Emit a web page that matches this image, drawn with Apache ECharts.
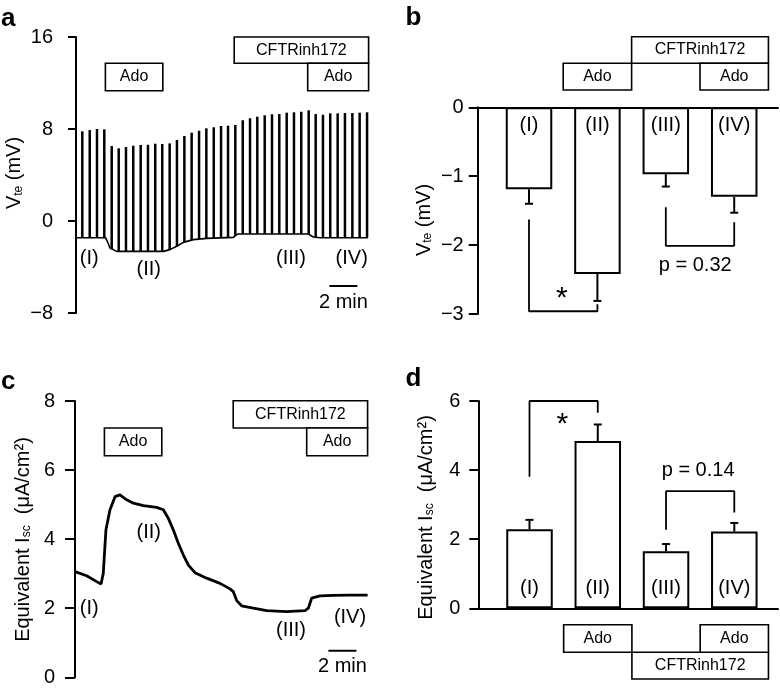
<!DOCTYPE html>
<html><head><meta charset="utf-8">
<script src="https://cdn.jsdelivr.net/npm/echarts@6/dist/echarts.min.js"></script>
<style>html,body{margin:0;padding:0;background:#fff}#c{width:780px;height:688px}</style>
</head><body><div id="c"></div>
<script>
// ---------- Panel a: transepithelial voltage (pulses every ~30 s) ----------
const pulseTimes = [0.45,0.98,1.5,2.02,2.55,3.05,3.57,4.09,4.62,5.14,5.66,6.16,6.69,7.21,7.74,8.26,8.79,9.31,9.84,10.36,
                    10.86,11.38,11.91,12.43,12.95,13.48,14.0,14.52,15.05,15.57,16.09,16.62,17.12,17.64,18.16,18.69,19.21,19.74,20.26,20.79];
const pulseTops  = [7.8,7.91,8.0,7.97,6.52,6.32,6.43,6.55,6.61,6.63,6.72,6.7,6.75,7.04,7.39,7.68,7.85,8.06,8.15,8.26,
                    8.29,8.35,8.76,8.93,9.07,9.19,9.28,9.3,9.42,9.45,9.5,9.63,9.3,9.24,9.36,9.36,9.39,9.39,9.42,9.45];
const pulseBases = [-1.45,-1.45,-1.45,-1.45,-2.45,-2.64,-2.64,-2.64,-2.64,-2.64,-2.64,-2.64,-2.5,-2.2,-1.83,-1.66,-1.57,-1.51,-1.48,-1.45,
                    -1.43,-1.28,-1.13,-1.13,-1.13,-1.13,-1.13,-1.13,-1.13,-1.13,-1.13,-1.15,-1.4,-1.45,-1.45,-1.45,-1.45,-1.45,-1.45,-1.45];
const baselineA = [[0,-1.45],[2.1,-1.45],[2.25,-1.8],[2.43,-2.35],[2.9,-2.64],[6.24,-2.64],[6.71,-2.49],[7.19,-2.2],[7.67,-1.86],
                   [8.38,-1.62],[9.33,-1.51],[11.24,-1.42],[11.45,-1.2],[11.6,-1.13],[16.6,-1.13],[16.95,-1.39],[17.43,-1.45],[20.85,-1.45]];
// ---------- Panel c: equivalent short-circuit current ----------
const traceC = [[0,3.06],[0.07,3.04],[0.83,2.94],[1.55,2.77],[1.86,2.70],[2.02,3.01],[2.21,4.27],[2.5,4.85],[2.86,5.23],[3.21,5.28],
                [3.69,5.14],[4.17,5.04],[4.88,4.97],[5.83,4.92],[6.31,4.85],[6.67,4.6],[7.02,4.27],[7.38,3.88],[7.74,3.54],[8.1,3.25],
                [8.57,3.03],[9.4,2.87],[10.36,2.72],[11.07,2.56],[11.31,2.48],[11.55,2.22],[11.9,2.07],[12.74,2.0],[13.69,1.93],
                [15.12,1.90],[16.43,1.93],[16.67,2.0],[16.9,2.29],[17.5,2.36],[18.45,2.37],[19.64,2.38],[20.9,2.38]];
// treatment periods (min)
const adoTime = [2.1, 6.2];
const cftrTime = [11.3, 20.9];
const ado2Time = [16.55, 20.9];
const scaleBarMin = [18.1, 20.1];
// ---------- Panels b / d: summary bars ----------
const groups = ['(I)','(II)','(III)','(IV)'];
const groupPos = [1,2,3,4];
const vteMean = [-1.19,-2.42,-0.97,-1.30];
const vteErr  = [0.21,0.39,0.18,0.23];
const iscMean = [2.29,4.84,1.65,2.22];
const iscErr  = [0.27,0.48,0.21,0.25];
const adoBars = [1.5, 2.5], cftrBars = [2.5, 4.5], ado2Bars = [3.5, 4.5];
const bracketB1 = [[1,-1.63],[1,-2.96],[2,-2.96],[2,-2.86]];
const bracketB2 = [[3,-1.45],[3,-2.01],[4,-2.01],[4,-1.67]];
const bracketD1 = [[1,3.81],[1,6.0],[2,6.0],[2,5.66]];
const bracketD2 = [[3,2.27],[3,3.39],[4,3.39],[4,2.77]];

const FONT = '"Liberation Sans", Arial, Helvetica, sans-serif';
const chart = echarts.init(document.getElementById('c'), null, {renderer:'canvas', width:780, height:688});
const minus = v => String(v).replace('-', '\u2212');

function yAx(gridIndex, min, max, interval, margin, tickLen){
  return {type:'value', gridIndex, min, max, interval,
    axisLine:{show:true, onZero:false, lineStyle:{color:'#000', width:2}},
    axisTick:{show:true, length:tickLen, lineStyle:{color:'#000', width:2}},
    axisLabel:{color:'#000', fontSize:20, fontFamily:FONT, margin, formatter:minus},
    splitLine:{show:false}};
}
function xBar(gridIndex){
  return {type:'value', gridIndex, min:0.25, max:4.64,
    axisLine:{show:true, onZero:true, lineStyle:{color:'#000', width:2}},
    axisTick:{show:false}, axisLabel:{show:false}, splitLine:{show:false}};
}
function errItem(params, api){
  const x = api.value(0), m = api.value(1), e = api.value(2);
  const end = m < 0 ? m - e : m + e;
  const p0 = api.coord([x, m]), p1 = api.coord([x, end]);
  return {type:'group', children:[
    {type:'line', shape:{x1:p0[0],y1:p0[1],x2:p1[0],y2:p1[1]}, style:{stroke:'#000',lineWidth:2}},
    {type:'line', shape:{x1:p1[0]-4,y1:p1[1],x2:p1[0]+4,y2:p1[1]}, style:{stroke:'#000',lineWidth:2}}
  ]};
}
function pulseItem(params, api){
  const p0 = api.coord([api.value(0), api.value(1)]);
  const p1 = api.coord([api.value(0), api.value(2)]);
  return {type:'line', shape:{x1:p0[0],y1:p0[1],x2:p1[0],y2:p1[1]}, style:{stroke:'#000', lineWidth:2.5}};
}
const lineS = (xi, data, w) => ({type:'line', xAxisIndex:xi, yAxisIndex:xi, data, showSymbol:false, symbol:'none', clip:false,
  lineStyle:{color:'#000', width:w}, silent:true});

const option = {
  animation:false,
  backgroundColor:'#fff',
  grid:[
    {left:76, top:37, width:301, height:276, outerBoundsMode:'none'},
    {left:477.7, top:107.3, width:300.3, height:206.7, outerBoundsMode:'none'},
    {left:75, top:401, width:301, height:276.3, outerBoundsMode:'none'},
    {left:478.3, top:401, width:299.7, height:207.3, outerBoundsMode:'none'}
  ],
  xAxis:[
    {type:'value', gridIndex:0, min:0, max:21.5, show:false},
    xBar(1),
    {type:'value', gridIndex:2, min:0, max:21.5, show:false},
    xBar(3)
  ],
  yAxis:[ yAx(0,-8,16,8,23,8), yAx(1,-3,0,1,14,9), yAx(2,0,8,2,20,10), yAx(3,0,6,2,18,9) ],
  series:[
    lineS(0, baselineA, 1.6),
    {type:'custom', xAxisIndex:0, yAxisIndex:0, renderItem:pulseItem, encode:{x:0, y:[1,2]},
      data: pulseTimes.map((t,i)=>[t, pulseBases[i], pulseTops[i]])},
    lineS(0, [[scaleBarMin[0],-5.65],[scaleBarMin[1],-5.65]], 2),
    {type:'bar', xAxisIndex:1, yAxisIndex:1, barWidth:46.5, data: groupPos.map((p,i)=>[p, vteMean[i]]),
      itemStyle:{color:'#fff', borderColor:'#000', borderWidth:2}},
    {type:'custom', xAxisIndex:1, yAxisIndex:1, renderItem:errItem, encode:{x:0,y:1},
      data: groupPos.map((p,i)=>[p, vteMean[i], vteErr[i]])},
    lineS(1, bracketB1, 1.8), lineS(1, bracketB2, 1.8),
    lineS(2, traceC, 2.8),
    lineS(2, [[scaleBarMin[0],0.77],[scaleBarMin[1],0.77]], 2),
    {type:'bar', xAxisIndex:3, yAxisIndex:3, barWidth:46.5, data: groupPos.map((p,i)=>[p, iscMean[i]]),
      itemStyle:{color:'#fff', borderColor:'#000', borderWidth:2}},
    {type:'custom', xAxisIndex:3, yAxisIndex:3, renderItem:errItem, encode:{x:0,y:1},
      data: groupPos.map((p,i)=>[p, iscMean[i], iscErr[i]])},
    lineS(3, bracketD1, 1.8), lineS(3, bracketD2, 1.8)
  ]
};
chart.setOption(option);

// ---------- annotations ----------
const g = [];
function txt(x, y, s, size, extra){
  g.push(Object.assign({type:'text', x, y, z:20, style:{text:s, fill:'#000', font:size+'px '+FONT, align:'center', verticalAlign:'middle'}}, extra||{}));
}
function box(x0, x1, y0, y1, label){
  g.push({type:'rect', z:15, shape:{x:x0, y:y0, width:x1-x0, height:y1-y0}, style:{fill:'#fff', stroke:'#000', lineWidth:1.6}});
  txt((x0+x1)/2, (y0+y1)/2, label, 16);
}
const px = (xi, v) => chart.convertToPixel({xAxisIndex:xi}, v);

// panel letters
[['a',1,19.2],['b',405.5,18.2],['c',1,382.2],['d',405.5,379.2]].forEach(([s,x,y]) =>
  g.push({type:'text', x, y, z:20, style:{text:s, fill:'#000', font:'bold 26px '+FONT, align:'left', verticalAlign:'middle'}}));

// y-axis titles (rotated, with subscripts)
function ytitle(x, y, main, sub, rest){
  g.push({type:'text', x, y, rotation:Math.PI/2, z:20, style:{
    text:'{n|'+main+'}{s|'+sub+'}{n|'+rest+'}', align:'center', verticalAlign:'middle', fill:'#000',
    rich:{n:{fontSize:20, fontFamily:FONT, verticalAlign:'bottom', fill:'#000'}, s:{fontSize:12, fontFamily:FONT, verticalAlign:'bottom', fill:'#000'}}}});
}
ytitle(14.6, 173, 'V', 'te', ' (mV)');
ytitle(424, 220, 'V', 'te', ' (mV)');
ytitle(23, 539.5, 'Equivalent I', 'sc', '  (\u03bcA/cm\u00b2)');
ytitle(426, 517.5, 'Equivalent I', 'sc', '  (\u03bcA/cm\u00b2)');

// treatment boxes, panels a & c
[[0, 37, 63.3, 90.7], [2, 400.7, 428, 455.7]].forEach(([xi, yt, ym, yb]) => {
  box(px(xi, cftrTime[0]), px(xi, cftrTime[1]), yt, ym, 'CFTRinh172');
  box(px(xi, adoTime[0]), px(xi, adoTime[1]), ym, yb, 'Ado');
  box(px(xi, ado2Time[0]), px(xi, ado2Time[1]), ym, yb, 'Ado');
});
// treatment boxes, panels b & d
box(px(1, cftrBars[0]), px(1, cftrBars[1]), 36.7, 63.3, 'CFTRinh172');
box(px(1, adoBars[0]), px(1, adoBars[1]), 63.3, 90, 'Ado');
box(px(1, ado2Bars[0]), px(1, ado2Bars[1]), 63.3, 90, 'Ado');
box(px(3, cftrBars[0]), px(3, cftrBars[1]), 652.3, 679, 'CFTRinh172');
box(px(3, adoBars[0]), px(3, adoBars[1]), 624.7, 652.3, 'Ado');
box(px(3, ado2Bars[0]), px(3, ado2Bars[1]), 624.7, 652.3, 'Ado');

// phase labels on traces
[[89.3,258.5],[148.7,269],[291,258.5],[351.7,258.5]].forEach((p,i)=>txt(p[0],p[1],groups[i],20));
[[89.3,608.5],[148.7,532.5],[291,630],[350,617.8]].forEach((p,i)=>txt(p[0],p[1],groups[i],20));
// labels inside bars
groupPos.forEach((p,i)=>{ txt(px(1,p), 125.5, groups[i], 20); txt(px(3,p), 588.5, groups[i], 20); });
// scale bar labels
txt((px(0,scaleBarMin[0])+px(0,scaleBarMin[1]))/2, 302, '2 min', 20);
txt((px(2,scaleBarMin[0])+px(2,scaleBarMin[1]))/2, 666, '2 min', 20);
// significance
txt(px(1,1.48), 299, '*', 30);
txt(px(1,3.43), 265, 'p = 0.32', 20);
txt(px(3,1.48), 425, '*', 30);
txt(px(3,3.47), 470.7, 'p = 0.14', 20);

chart.setOption({graphic:g});
</script></body></html>
